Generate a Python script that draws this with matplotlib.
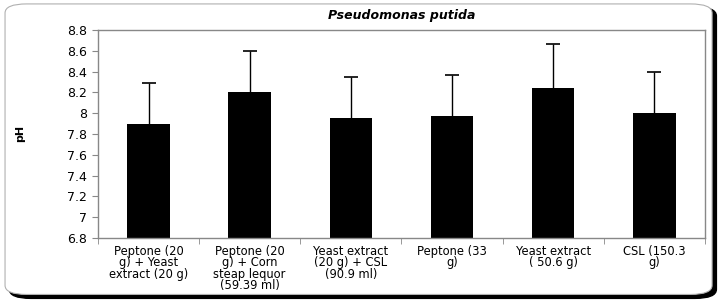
import matplotlib.pyplot as plt
from matplotlib.patches import FancyBboxPatch

categories = [
    "Peptone (20\ng) + Yeast\nextract (20 g)",
    "Peptone (20\ng) + Corn\nsteap lequor\n(59.39 ml)",
    "Yeast extract\n(20 g) + CSL\n(90.9 ml)",
    "Peptone (33\ng)",
    "Yeast extract\n( 50.6 g)",
    "CSL (150.3\ng)",
]
ph_values = [7.90, 8.20, 7.95, 7.97, 8.245, 8.00]
ph_errors = [0.39, 0.40, 0.40, 0.40, 0.42, 0.40]
y_ticks = [6.8, 7, 7.2, 7.4, 7.6, 7.8, 8, 8.2, 8.4, 8.6, 8.8]

plt.rcParams["font.family"] = ["DejaVu Sans"]

fig = plt.figure(figsize=(7.2, 3.02), dpi=100)

# rounded chart frame with dark shadow
shadow = FancyBboxPatch((0.013, 0.012), 0.982, 0.965,
                        boxstyle="round,pad=0,rounding_size=0.03",
                        transform=fig.transFigure, facecolor="black",
                        edgecolor="black", zorder=0)
frame = FancyBboxPatch((0.007, 0.025), 0.982, 0.962,
                       boxstyle="round,pad=0,rounding_size=0.03",
                       transform=fig.transFigure, facecolor="white",
                       edgecolor="#b0b0b0", linewidth=0.8, zorder=1)
fig.patches.extend([shadow, frame])

ax = fig.add_axes([0.136, 0.212, 0.843, 0.689])
ax.set_zorder(2)
x = list(range(len(categories)))
ax.bar(x, [v - 6.8 for v in ph_values], bottom=6.8, width=0.42,
       color="black", zorder=2)
_, caps, _ = ax.errorbar(x, ph_values, yerr=[[0] * len(x), ph_errors],
                         fmt="none", ecolor="black", elinewidth=1,
                         capsize=5, capthick=1.2, zorder=3)
caps[0].set_visible(False)

ax.set_xlim(-0.5, len(categories) - 0.5)
ax.set_ylim(6.8, 8.8)
ax.set_yticks(y_ticks)
ax.set_yticklabels([f"{t:g}" for t in y_ticks], fontsize=9)
ax.set_xticks(x)
ax.set_xticklabels(categories, fontsize=8.3, linespacing=0.85)
ax.tick_params(axis="x", length=0, pad=5)
ax.set_xticks([i + 0.5 for i in range(-1, len(categories))], minor=True)
ax.tick_params(axis="x", which="minor", length=4, color="#888888")
ax.tick_params(axis="y", length=4, color="#888888", pad=4)

for side in ["top", "right", "bottom", "left"]:
    ax.spines[side].set_color("#888888")
    ax.spines[side].set_linewidth(1)

ax.set_ylabel("pH", fontsize=8, fontweight="bold", labelpad=30)
ax.set_title("Pseudomonas putida", fontsize=9, fontweight="bold",
             fontstyle="italic", pad=8)

fig.savefig("out.png", dpi=100)
